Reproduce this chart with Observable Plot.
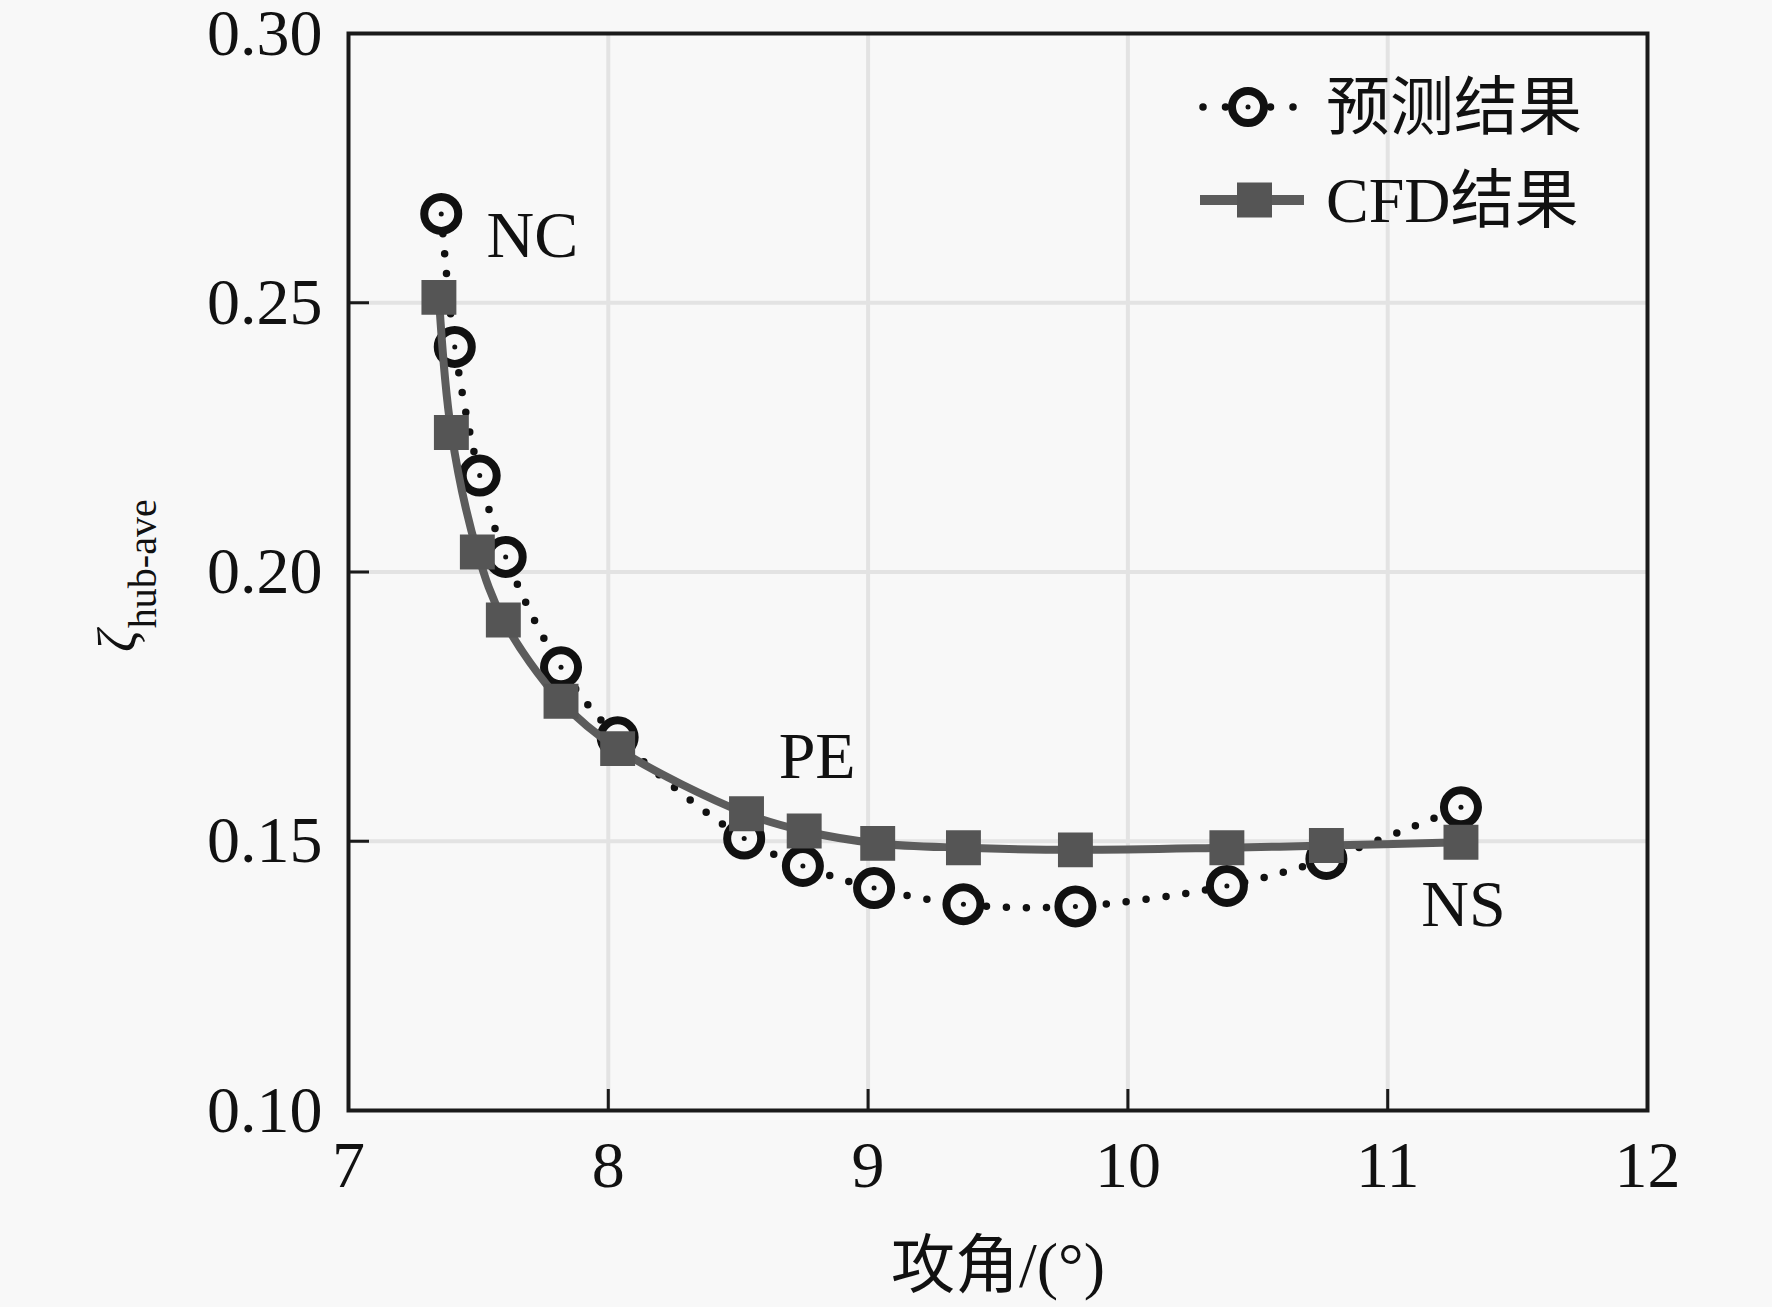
<!DOCTYPE html>
<html>
<head>
<meta charset="utf-8">
<script src="https://cdn.jsdelivr.net/npm/d3@7"></script>
<script src="https://cdn.jsdelivr.net/npm/@observablehq/plot@0.6"></script>
<style>
  html, body { margin: 0; padding: 0; background: #f8f8f8; }
  #chart { width: 1772px; height: 1307px; }
</style>
</head>
<body>
<div id="chart"></div>
<script>
// ---- data ----
const predX = [7.357, 7.409, 7.505, 7.605, 7.818, 8.036, 8.523, 8.749, 9.023, 9.367, 9.798, 10.381, 10.764, 11.282];
const predY = [0.2665, 0.2418, 0.2179, 0.2028, 0.1823, 0.1693, 0.1505, 0.1454, 0.1413, 0.1383, 0.1379, 0.1417, 0.1467, 0.1563];
const cfdX  = [7.348, 7.396, 7.496, 7.596, 7.818, 8.036, 8.532, 8.754, 9.037, 9.367, 9.798, 10.381, 10.764, 11.282];
const cfdY  = [0.2510, 0.2259, 0.2037, 0.1911, 0.1760, 0.1672, 0.1551, 0.1519, 0.1496, 0.1488, 0.1484, 0.1488, 0.1492, 0.1498];
const xTicks = [7, 8, 9, 10, 11, 12];
const yTicks = [0.10, 0.15, 0.20, 0.25, 0.30];
const annLabels = ["NC", "PE", "NS"];
const annX = [7.708, 8.804, 11.292];
const annY = [0.2625, 0.1656, 0.1381];
const seriesNames = ["预测结果", "CFD结果"];
const xTitle = "攻角/(°)";

// ---- build ----
const pred = predX.map((x, i) => ({x, y: predY[i]}));
const cfd = cfdX.map((x, i) => ({x, y: cfdY[i]}));

const W = 1772, H = 1307;
const mL = 348, mR = 125, mT = 33, mB = 197;
const plotW = W - mL - mR, plotH = H - mT - mB;
const FONT = "'Liberation Serif', 'Noto Sans CJK SC', serif";
const BG = "#f8f8f8";

const chart = Plot.plot({
  width: W, height: H,
  marginLeft: mL, marginRight: mR, marginTop: mT, marginBottom: mB,
  x: {domain: [7, 12]},
  y: {domain: [0.10, 0.30]},
  style: {background: BG, fontFamily: FONT, fontSize: "66px", color: "#111"},
  marks: [
    Plot.gridX(xTicks.slice(1, -1), {stroke: "#e3e3e3", strokeOpacity: 1, strokeWidth: 4}),
    Plot.gridY(yTicks.slice(1, -1), {stroke: "#e3e3e3", strokeOpacity: 1, strokeWidth: 4}),
    // inward tick marks
    Plot.tickX(xTicks.slice(1, -1), {x: d => d, insetTop: plotH - 21, stroke: "#1a1a1a", strokeWidth: 3}),
    Plot.tickY(yTicks.slice(1, -1), {y: d => d, insetRight: plotW - 21, stroke: "#1a1a1a", strokeWidth: 3}),
    // predicted: dotted line with ring markers
    Plot.line(pred, {x: "x", y: "y", curve: "catmull-rom", stroke: "#111", strokeWidth: 7.5,
      strokeDasharray: "0,20", strokeLinecap: "round"}),
    Plot.dot(pred, {x: "x", y: "y", r: 17, stroke: "#111", strokeWidth: 8, fill: BG}),
    Plot.dot(pred, {x: "x", y: "y", r: 2.5, fill: "#111", stroke: null}),
    // CFD: solid smooth line with squares
    Plot.line(cfd, {x: "x", y: "y", curve: "catmull-rom", stroke: "#5c5c5c", strokeWidth: 8}),
    Plot.dot(cfd, {x: "x", y: "y", symbol: "square", r: 19.7, fill: "#555", stroke: null}),
    // annotations
    Plot.text(annLabels, {x: (d, i) => annX[i], y: (d, i) => annY[i], text: d => d,
      fontSize: 66, textAnchor: "middle", lineAnchor: "middle", fill: "#111"}),
    // x title
    Plot.text([xTitle], {frameAnchor: "bottom", dy: 156, text: d => d, fontSize: 64,
      lineAnchor: "middle", fill: "#111"}),
    Plot.frame({stroke: "#1a1a1a", strokeWidth: 4}),
    Plot.axisX({ticks: xTicks, tickSize: 0, tickPadding: 30, tickFormat: d => String(d), label: null, fontSize: 66}),
    Plot.axisY({ticks: yTicks, tickSize: 0, tickPadding: 26, tickFormat: d3.format(".2f"), label: null, fontSize: 66})
  ]
});

document.getElementById("chart").appendChild(chart);

// ---- y-axis title (ζ with subscript) and legend ----
const svg = d3.select(chart);
const yt = svg.append("text")
  .attr("transform", "translate(136,652) rotate(-90)")
  .attr("text-anchor", "start")
  .attr("font-family", FONT)
  .attr("fill", "#111");
yt.append("tspan").attr("font-style", "italic").attr("font-size", 54).text("ζ");
yt.append("tspan").attr("font-size", 40).attr("dy", 20).attr("dx", 2).text("hub-ave");

const lg = svg.append("g").attr("font-family", FONT).attr("fill", "#111").attr("text-anchor", "start");
const r1 = 107, r2 = 200;
// row 1: predicted
lg.append("line").attr("x1", 1203).attr("x2", 1294).attr("y1", r1).attr("y2", r1)
  .attr("stroke", "#111").attr("stroke-width", 7.5).attr("stroke-dasharray", "0,22.5")
  .attr("stroke-linecap", "round");
lg.append("circle").attr("cx", 1248).attr("cy", r1).attr("r", 16)
  .attr("fill", BG).attr("stroke", "#111").attr("stroke-width", 8);
lg.append("circle").attr("cx", 1248).attr("cy", r1).attr("r", 2.5).attr("fill", "#111");
lg.append("text").attr("x", 1326).attr("y", r1).attr("dy", "0.35em")
  .attr("font-size", 64).text(seriesNames[0]);
// row 2: CFD
lg.append("line").attr("x1", 1200).attr("x2", 1304).attr("y1", r2).attr("y2", r2)
  .attr("stroke", "#5c5c5c").attr("stroke-width", 10);
lg.append("rect").attr("x", 1237).attr("y", r2 - 17.5).attr("width", 35).attr("height", 35)
  .attr("fill", "#555");
lg.append("text").attr("x", 1326).attr("y", r2).attr("dy", "0.35em")
  .attr("font-size", 64).text(seriesNames[1]);
</script>
</body>
</html>
